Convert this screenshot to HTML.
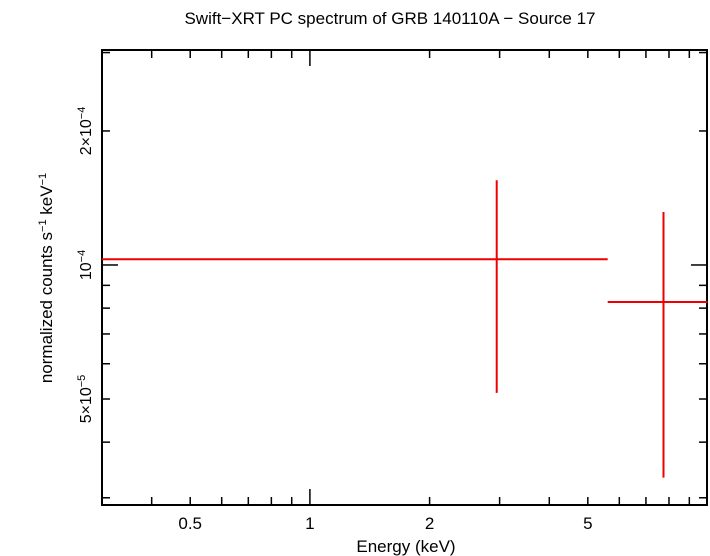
<!DOCTYPE html>
<html><head><meta charset="utf-8"><style>
body{margin:0;background:#fff}
svg{display:block;font-family:"Liberation Sans",sans-serif}
</style></head><body>
<svg id="chart" width="710" height="556">
<text x="390" y="24" text-anchor="middle" font-size="17">Swift−XRT PC spectrum of GRB 140110A − Source 17</text>
<rect x="102" y="50" width="605" height="455" fill="none" stroke="#000" stroke-width="2"/>
<g id="ticks"></g>
<g id="marks"></g>
<text x="406" y="552" text-anchor="middle" font-size="17">Energy (keV)</text>
<text transform="translate(52,278) rotate(-90)" text-anchor="middle" font-size="17">normalized counts s<tspan baseline-shift="super" font-size="11">−1</tspan> keV<tspan baseline-shift="super" font-size="11">−1</tspan></text>
</svg>
<script>
const xTickVals=[0.5,1,2,5];
const xTickLabels=["0.5","1","2","5"];
const yTickVals=[5e-5,1e-4,2e-4];
const yTickLabels=[["5×10","−5"],["10","−4"],["2×10","−4"]];
const binLo=[0.3,5.61];
const binHi=[5.61,10];
const binCenter=[2.95,7.75];
const rate=[1.03e-4,0.826e-4];
const rateHi=[1.55e-4,1.315e-4];
const rateLo=[0.516e-4,0.333e-4];
const L=102,R=707,T=50,B=505;
const xmin=Math.log10(0.3),xmax=Math.log10(9.97);
const ymin=Math.log10(2.89e-5),ymax=Math.log10(3.04e-4);
const X=v=>L+(Math.log10(v)-xmin)/(xmax-xmin)*(R-L);
const Y=v=>B-(Math.log10(v)-ymin)/(ymax-ymin)*(B-T);
const NS="http://www.w3.org/2000/svg";
const tg=document.getElementById('ticks'),mg=document.getElementById('marks'),svg=document.getElementById('chart');
function line(g,x1,y1,x2,y2,c,w){const l=document.createElementNS(NS,'line');l.setAttribute('x1',x1);l.setAttribute('y1',y1);l.setAttribute('x2',x2);l.setAttribute('y2',y2);l.setAttribute('stroke',c);l.setAttribute('stroke-width',w);g.appendChild(l);return l;}
// x minor+major ticks
for(const d of [0.1,1]){for(let m=1;m<10;m++){const v=m*d;if(v<0.3||v>9.97)continue;const big=(v===1);const len=big?16:8;
const a=line(tg,X(v),B,X(v),B-len,'#000',1.5);
const b=line(tg,X(v),T,X(v),T+len,'#000',1.5);}}
xTickVals.forEach((v,i)=>{const t=document.createElementNS(NS,'text');t.setAttribute('x',X(v));t.setAttribute('y',529);t.setAttribute('text-anchor','middle');t.setAttribute('font-size','17');t.textContent=xTickLabels[i];


svg.appendChild(t);});
// y ticks
for(const d of [1e-5,1e-4]){for(let m=1;m<10;m++){const v=m*d;if(v<2.89e-5||v>3.04e-4)continue;const big=(v===1e-4);const len=big?16:8;
const a=line(tg,L,Y(v),L+len,Y(v),'#000',1.5);
const b=line(tg,R,Y(v),R-len,Y(v),'#000',1.5);}}
yTickVals.forEach((v,i)=>{const t=document.createElementNS(NS,'text');t.setAttribute('transform',`translate(91,${Y(v)}) rotate(-90)`);t.setAttribute('text-anchor','middle');t.setAttribute('font-size','16');
t.textContent=yTickLabels[i][0];const s=document.createElementNS(NS,'tspan');s.setAttribute('baseline-shift','super');s.setAttribute('font-size','11');s.textContent=yTickLabels[i][1];t.appendChild(s);


svg.appendChild(t);});
// data
rate.forEach((r,i)=>{const h=line(mg,X(binLo[i]),Y(r),X(binHi[i]),Y(r),'#e00',2);


const v=line(mg,X(binCenter[i]),Y(rateHi[i]),X(binCenter[i]),Y(rateLo[i]),'#e00',2);

});
</script>
</body></html>
